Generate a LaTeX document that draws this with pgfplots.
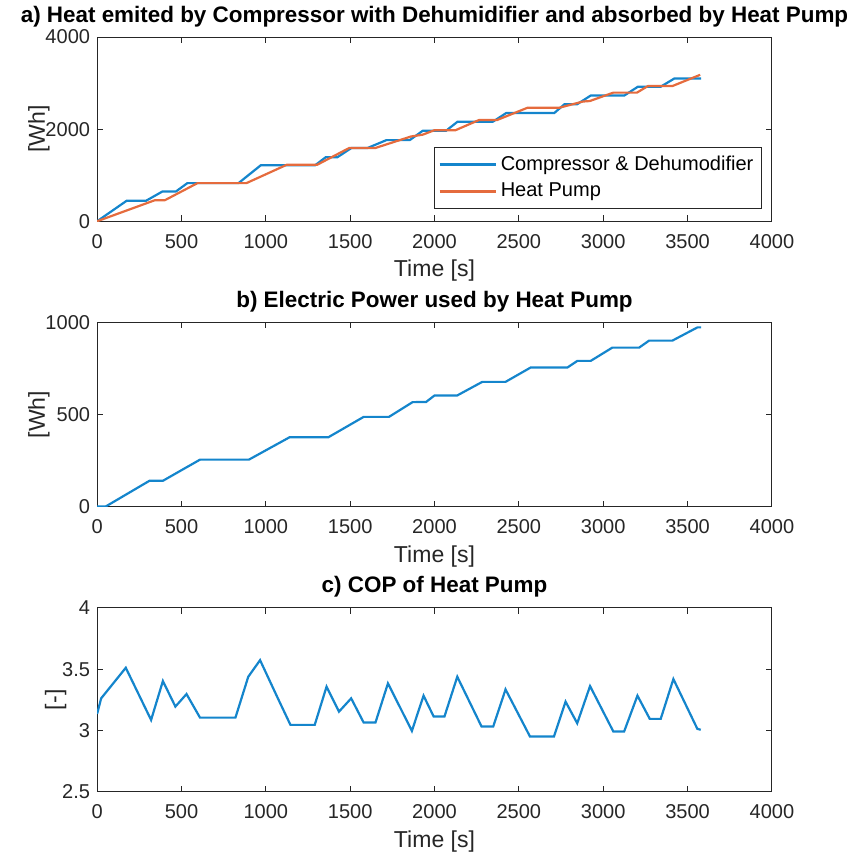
\documentclass[border=0pt]{standalone}
\usepackage{pgfplots}
\pgfplotsset{compat=1.18}
\usepackage{fontspec}
\setmainfont{Liberation Sans}

\definecolor{mblue}{rgb}{0.08,0.52,0.80}
\definecolor{morange}{rgb}{0.90,0.42,0.24}
\definecolor{axgray}{rgb}{0.15,0.15,0.15}

\pgfplotsset{
  panel/.style={
    scale only axis,
    width=337pt, height=92pt,
    xmin=0, xmax=4000,
    xtick={0,500,...,4000},
    tick pos=both, tick align=inside,
    major tick length=3pt,
    axis line style={axgray, line width=0.5pt},
    every tick/.style={axgray, line width=0.5pt},
    tick label style={font=\fontsize{10}{12}\selectfont, text=axgray},
    xticklabel style={yshift=-3pt},
    /pgf/number format/1000 sep={},
    /pgf/number format/assume math mode=true,
    xlabel={Time [s]},
    xlabel style={font=\fontsize{11.5}{13}\selectfont, text=axgray, yshift=1pt},
    ylabel style={font=\fontsize{11.5}{13}\selectfont, text=axgray, yshift=-9pt},
    title style={font=\bfseries\fontsize{11.2}{13}\selectfont, yshift=-4.5pt},
    every axis plot/.append style={line width=1.1pt},
    legend image code/.code={\draw[#1] (0pt,0pt) -- (28pt,0pt);},
  },
}

\begin{document}
\begin{tikzpicture}

% a) heat
\begin{axis}[panel, name=a, at={(0,0)}, anchor=north west,
  ymin=0, ymax=4000, ytick={0,2000,4000},
  ylabel={[Wh]},
  title={a) Heat emited by Compressor with Dehumidifier and absorbed by Heat Pump},
  legend style={at={(0.985,0.07)}, anchor=south east, draw=axgray,
    font=\fontsize{10}{12}\selectfont, cells={anchor=west},
    inner sep=2pt, row sep=1pt},
]
\addplot[mblue] coordinates {
 (0,0) (175,445) (290,445) (387,646) (467,646) (535,828) (838,828)
 (970,1215) (1292,1215) (1355,1390) (1424,1390) (1508,1592) (1604,1592)
 (1715,1762) (1853,1762) (1930,1964) (2068,1964) (2136,2160) (2345,2160)
 (2425,2350) (2710,2350) (2770,2540) (2845,2540) (2926,2730) (3125,2730)
 (3205,2920) (3340,2920) (3422,3100) (3580,3100)
};
\addlegendentry{Compressor \& Dehumodifier}
\addplot[morange] coordinates {
 (0,0) (340,454) (400,454) (595,828) (885,828) (1125,1228) (1305,1228)
 (1495,1592) (1650,1592) (1860,1840) (1930,1880) (2000,1978) (2125,1978)
 (2265,2200) (2372,2200) (2550,2463) (2738,2463) (2880,2600) (2920,2610)
 (3060,2793) (3200,2793) (3265,2936) (3410,2936) (3575,3180)
};
\addlegendentry{Heat Pump}
\end{axis}

% b) electric power
\begin{axis}[panel, name=b, at={(0,-142.5pt)}, anchor=north west,
  ymin=0, ymax=1000, ytick={0,500,1000},
  ylabel={[Wh]},
  title={b) Electric Power used by Heat Pump},
]
\addplot[mblue] coordinates {
 (0,0) (50,0) (310,140) (390,140) (610,255) (900,255) (1140,376) (1370,376)
 (1580,487) (1730,487) (1870,567) (1950,568) (2000,603) (2134,603)
 (2283,677) (2421,677) (2570,755) (2788,755) (2847,791) (2926,791)
 (3054,863) (3213,863) (3272,901) (3410,901) (3559,973) (3580,973)
};
\end{axis}

% c) COP
\begin{axis}[panel, name=c, at={(0,-285pt)}, anchor=north west,
  ymin=2.5, ymax=4, ytick={2.5,3,3.5,4},
  ylabel={[-]},
  title={c) COP of Heat Pump},
]
\addplot[mblue] coordinates {
 (0,3.135) (24,3.262) (170,3.511) (320,3.086) (390,3.403) (464,3.195)
 (530,3.297) (610,3.105) (820,3.105) (896,3.438) (966,3.573) (1076,3.249)
 (1146,3.046) (1290,3.046) (1360,3.357) (1434,3.154) (1506,3.262)
 (1580,3.065) (1650,3.065) (1724,3.384) (1866,2.997) (1935,3.284)
 (1995,3.114) (2059,3.114) (2135,3.438) (2279,3.032) (2348,3.032)
 (2421,3.335) (2566,2.951) (2708,2.951) (2777,3.235) (2846,3.059)
 (2922,3.362) (3060,2.992) (3124,2.992) (3203,3.284) (3276,3.095)
 (3341,3.095) (3416,3.419) (3558,3.014) (3578,3.006)
};
\end{axis}

\pgfresetboundingbox
\path[use as bounding box] (-48.5pt,18.5pt) rectangle (378pt,-410pt);
\end{tikzpicture}
\end{document}
